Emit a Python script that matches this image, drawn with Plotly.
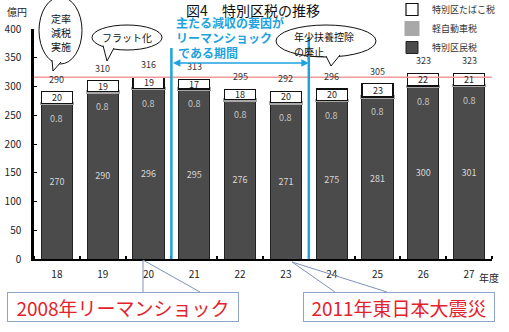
import plotly.graph_objects as go

# ---- data ----
years = [18, 19, 20, 21, 22, 23, 24, 25, 26, 27]
resident_tax = [270, 290, 296, 295, 276, 271, 275, 281, 300, 301]   # 特別区民税
light_vehicle_tax = [0.8] * 10                                      # 軽自動車税
tobacco_tax = [20, 19, 19, 17, 18, 20, 20, 23, 22, 21]              # 特別区たばこ税
totals = [290, 310, 316, 313, 295, 292, 296, 305, 323, 323]
y_ticks = [0, 50, 100, 150, 200, 250, 300, 350, 400]
ref_level = 316
shock_bounds = [20.5, 23.5]

FONT = "Noto Sans CJK JP"
W, H = 509, 332
L, R, T, B = 34, 492, 29, 259


def px(x):
    return (x - L) / (R - L)


def py(y):
    return (B - y) / (B - T)


fig = go.Figure()
fig.add_trace(go.Bar(
    x=years, y=resident_tax, name="特別区民税",
    marker=dict(color="#4b4b4b", line=dict(color="#222222", width=1)),
    text=resident_tax, texttemplate="%{text}", textposition="inside",
    insidetextanchor="middle", textfont=dict(color="#d6d6d6", size=9, family=FONT),
))
fig.add_trace(go.Bar(
    x=years, y=light_vehicle_tax, name="軽自動車税",
    marker=dict(color="#a8a8a8", line=dict(color="#a8a8a8", width=3)),
))
fig.add_trace(go.Bar(
    x=years, y=tobacco_tax, name="特別区たばこ税",
    marker=dict(color="#ffffff", line=dict(color="#111111", width=1.2)),
))

ann = []
for i, yr in enumerate(years):
    base = resident_tax[i] + light_vehicle_tax[i]
    ann.append(dict(x=yr, y=base + tobacco_tax[i] / 2, text=str(tobacco_tax[i]),
                    showarrow=False, font=dict(size=9, color="#222222", family=FONT)))
    ann.append(dict(x=yr, y=resident_tax[i], yanchor="top", yshift=-6,
                    text=str(light_vehicle_tax[i]), showarrow=False,
                    font=dict(size=9, color="#c4c4c4", family=FONT)))
    ann.append(dict(x=yr, y=base + tobacco_tax[i], yanchor="bottom", yshift=4,
                    text=str(totals[i]), showarrow=False,
                    font=dict(size=9, color="#333333", family=FONT)))

# arrow between blue lines
ann.append(dict(x=shock_bounds[1], y=341, ax=shock_bounds[0], ay=341,
                axref="x", ayref="y", text="", showarrow=True,
                arrowhead=2, arrowside="end+start", arrowsize=1,
                arrowwidth=1.5, arrowcolor="#1fa3df"))


def ptext(txt, x, y, size, color="#111111", xanchor="center"):
    ann.append(dict(xref="paper", yref="paper", x=px(x), y=py(y), text=txt,
                    xanchor=xanchor, yanchor="middle", showarrow=False,
                    font=dict(size=size, color=color, family=FONT)))


blue_lines = ["主たる減収の要因が", "リーマンショック", "である期間"]
for txt, yy, xx in zip(blue_lines, [23, 37, 52], [174, 174, 176]):
    ptext(f"<b>{txt}</b>", xx, yy, 12, "#1fa3df", "left")

# bubble texts
for txt, yy in [("定率", 18), ("減税", 32), ("実施", 46)]:
    ptext(txt, 61, yy, 10)
ptext("フラット化", 127, 37, 10)
ptext("年少扶養控除", 292, 36, 10, xanchor="left")
ptext("の廃止", 292, 51, 10, xanchor="left")

ptext("億円", 17, 11, 10, "#222222")
ptext("年度", 489, 277, 10, "#222222")

# bottom boxes
ann.append(dict(xref="paper", yref="paper", x=px(123), y=py(307),
                xanchor="center", yanchor="middle",
                text="2008年リーマンショック", showarrow=False,
                font=dict(size=19, color="#e3222b", family=FONT),
                bgcolor="#ffffff", bordercolor="#8ea3c8", borderwidth=1,
                borderpad=1, width=228, height=26))
ann.append(dict(xref="paper", yref="paper", x=px(399), y=py(307),
                xanchor="center", yanchor="middle",
                text="2011年東日本大震災", showarrow=False,
                font=dict(size=19, color="#e3222b", family=FONT),
                bgcolor="#ffffff", bordercolor="#8ea3c8", borderwidth=1,
                borderpad=1, width=188, height=26))

shapes = []
# reference red line
shapes.append(dict(type="line", xref="paper", yref="y", x0=0, x1=1,
                   y0=ref_level, y1=ref_level,
                   line=dict(color="#f29a9a", width=1.5)))
# blue period lines
for xb, top in zip(shock_bounds, [48, 37]):
    shapes.append(dict(type="line", xref="x", yref="paper", x0=xb, x1=xb,
                       y0=0, y1=py(top), line=dict(color="#1fa3df", width=2.5)))


# bubbles
def bubble(x0, x1, y0, y1, a, tip, b):
    shapes.append(dict(type="circle", xref="paper", yref="paper",
                       x0=px(x0), x1=px(x1), y0=py(y1), y1=py(y0),
                       fillcolor="#ffffff", line=dict(color="#111111", width=1)))
    path = (f"M {px(a[0])},{py(a[1])} L {px(tip[0])},{py(tip[1])} "
            f"L {px(b[0])},{py(b[1])}")
    shapes.append(dict(type="path", xref="paper", yref="paper", path=path,
                       fillcolor="#ffffff", line=dict(color="#111111", width=1)))


bubble(39, 82, -3, 64, (52, 60), (53, 71), (61, 62))
bubble(92, 162, 25, 50, (103, 45.5), (107, 61), (114, 48))
bubble(276, 376, 25, 57, (326, 56), (331, 66), (340, 55))

# connector lines for bottom boxes
for (x0, y0, x1, y1) in [(143, 260, 143, 292), (143, 260, 200, 292),
                         (292, 262, 335, 292), (292, 262, 387, 292)]:
    shapes.append(dict(type="line", xref="paper", yref="paper",
                       x0=px(x0), y0=py(y0), x1=px(x1), y1=py(y1),
                       line=dict(color="#7f93b5", width=1)))

# blue line passes over bubble 3 in the reference
shapes.append(dict(type="line", xref="x", yref="paper", x0=shock_bounds[1],
                   x1=shock_bounds[1], y0=py(60), y1=py(37),
                   line=dict(color="#1fa3df", width=2.5)))

fig.update_layout(
    width=W, height=H,
    margin=dict(l=L, r=W - R, t=T, b=H - B, pad=0, autoexpand=False),
    paper_bgcolor="#ffffff", plot_bgcolor="#ffffff",
    barmode="stack", bargap=0.32,
    font=dict(family=FONT, color="#222222"),
    title=dict(text="図4　特別区税の推移", xref="paper", x=px(253), xanchor="center",
               yref="container", y=1 - 11 / H, yanchor="middle",
               font=dict(size=14, color="#111111", family=FONT)),
    showlegend=True,
    legend=dict(x=px(392), xanchor="left", y=py(-5), yanchor="top",
                font=dict(size=9, color="#333333", family=FONT),
                itemwidth=30, tracegroupgap=0, bgcolor="rgba(0,0,0,0)",
                traceorder="reversed"),
    xaxis=dict(range=[17.5, 27.5], tickmode="array", tickvals=years,
               ticktext=[str(y) for y in years], ticks="", showgrid=False,
               zeroline=False, showline=True, linecolor="#000000", linewidth=2,
               tickfont=dict(size=10, color="#222222"), ticklabelstandoff=5,
               minor=dict(tickmode="linear", tick0=17.5, dtick=1, ticks="inside",
                          ticklen=3, tickcolor="#000000", tickwidth=1.5,
                          showgrid=False)),
    yaxis=dict(range=[0, 400], tickmode="array", tickvals=y_ticks, ticks="inside",
               ticklen=3, tickcolor="#000000", showgrid=False, zeroline=False,
               showline=True, linecolor="#000000", linewidth=2.5,
               tickfont=dict(size=10, color="#222222"), ticklabelstandoff=8),
    annotations=ann, shapes=shapes,
)

fig.write_html("out.html")
